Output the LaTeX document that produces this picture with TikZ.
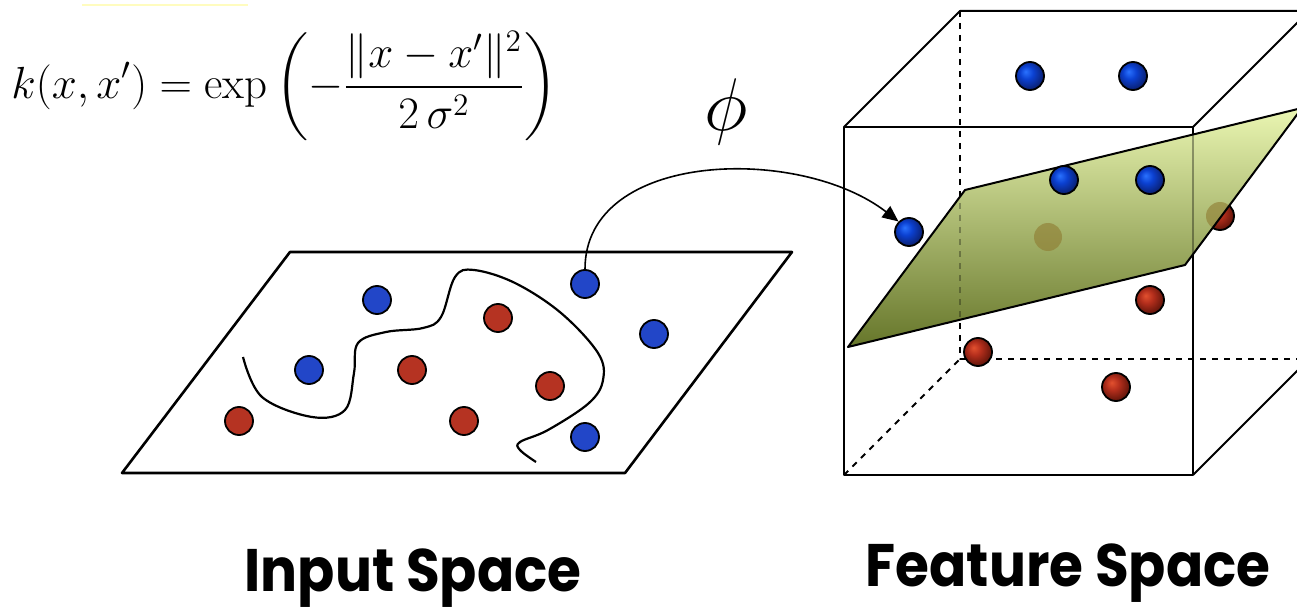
\documentclass[tikz,border=0pt]{standalone}
\usepackage{amsmath}
\usepackage{fontspec}
\newfontfamily\spacefont{Poppins}[FakeStretch=0.915]
\usetikzlibrary{arrows.meta}
\definecolor{dotblue}{HTML}{2246C8}
\definecolor{dotred}{HTML}{B53322}
\definecolor{ballbluelt}{HTML}{2A72FF}
\definecolor{ballblue}{HTML}{0B40D0}
\definecolor{ballbluedk}{HTML}{0A1C66}
\definecolor{ballredlt}{HTML}{E2512F}
\definecolor{ballred}{HTML}{B32E1C}
\definecolor{ballreddk}{HTML}{581208}
\definecolor{planetop}{HTML}{EAF6B2}
\definecolor{planemid}{HTML}{B9C97E}
\definecolor{planebot}{HTML}{66762A}
\definecolor{ghostred}{HTML}{8E7A30}
\pgfdeclareradialshading{bluesphere}{\pgfpoint{-8bp}{8bp}}{color(0bp)=(ballbluelt); color(12bp)=(ballblue); color(30bp)=(ballbluedk); color(50bp)=(ballbluedk)}
\pgfdeclareradialshading{redsphere}{\pgfpoint{-8bp}{8bp}}{color(0bp)=(ballredlt); color(12bp)=(ballred); color(30bp)=(ballreddk); color(50bp)=(ballreddk)}
\tikzset{
  indot/.style={circle, draw, line width=0.9pt, inner sep=0pt, minimum size=14pt, fill=#1},
  ftdot/.style={circle, draw, line width=0.9pt, inner sep=0pt, minimum size=14pt, shading=#1},
  cubeline/.style={line width=1pt},
  spacelabel/.style={font=\spacefont\bfseries\fontsize{30}{34}\selectfont},
}
\begin{document}
\begin{tikzpicture}[x=0.5pt, y=-0.5pt, line join=round]
  \useasboundingbox (0,0) rectangle (1297,610);
  \clip (0,0) rectangle (1297,610);
  \draw[yellow!25, line width=1pt] (82,5) -- (248,5);
  \node[anchor=west, inner sep=0pt] (kernel) at (11,86)
    {\scalebox{1.085}{\fontsize{20.74}{25}\selectfont $\displaystyle k(x,x')=\exp\left(-\frac{\|x-x'\|^2}{2\,\sigma^2}\right)$}};

  % input space
  \draw[line width=1.3pt] (290,252) -- (792,252) -- (625,473) -- (122,473) -- cycle;
  \draw[line width=1.1pt] plot[smooth, tension=0.6] coordinates {
    (243,357) (262,397) (312,417) (345,410) (354,373) (358,343) (386,332)
    (423,328) (441,317) (455,277) (474,270) (515,283) (561,313) (598,353)
    (603,380) (589,403) (548,430) (520,442) (520,450) (536,462)};
  \foreach \n/\x/\y in {i1/377/300, i2/309/370, i3/585/284, i4/654/334, i5/585/437}
    \node[indot=dotblue] (\n) at (\x,\y) {};
  \foreach \n/\x/\y in {i6/239/421, i7/498/318, i8/412/370, i9/550/386, i10/464/421}
    \node[indot=dotred] (\n) at (\x,\y) {};

  % feature space
  \draw[cubeline, dashed] (960,11) -- (960,359) -- (1309,359);
  \draw[cubeline, dashed] (844,475) -- (960,359);
  \draw[cubeline] (844,127) rectangle (1193,475);
  \draw[cubeline] (844,127) -- (960,11) -- (1309,11) -- (1193,127);
  \draw[cubeline] (1193,475) -- (1309,359);
  \node[ftdot=redsphere] (f6) at (1048,237) {};
  \node[ftdot=redsphere] (f7) at (1220,216) {};
  \shade[top color=planetop, middle color=planemid, bottom color=planebot]
    (848,347) -- (965,190) -- (1302,108) -- (1185,265) -- cycle;
  \begin{scope}
    \clip (848,347) -- (965,190) -- (1302,108) -- (1185,265) -- cycle;
    \fill[ghostred, opacity=0.6] (f6) circle[radius=7pt] (f7) circle[radius=7pt];
    \draw[cubeline, dashed, opacity=0.3] (960,11) -- (960,359);
    \draw[cubeline, opacity=0.35] (1193,127) -- (1193,475);
  \end{scope}
  \draw[cubeline] (848,347) -- (965,190) -- (1302,108) -- (1185,265) -- cycle;
  \foreach \n/\x/\y in {f1/1030/76, f2/1133/76, f3/1064/180, f4/1150/180, f5/909/232}
    \node[ftdot=bluesphere] (\n) at (\x,\y) {};
  \foreach \n/\x/\y in {f8/1150/300, f9/978/352, f10/1116/387}
    \node[ftdot=redsphere] (\n) at (\x,\y) {};

  \draw[line width=0.8pt, -{Triangle[length=8pt, width=7pt]}]
    (i3.north) .. controls (585,150) and (800,145) .. (f5.north west);
  \node (phi) at (726,112) {\scalebox{1.5}{\fontsize{24.88}{30}\selectfont $\phi$}};

  \node[spacelabel] (inlab) at (413,578) {Input Space};
  \node[spacelabel] (featlab) at (1068,573) {Feature Space};
\end{tikzpicture}
\end{document}
